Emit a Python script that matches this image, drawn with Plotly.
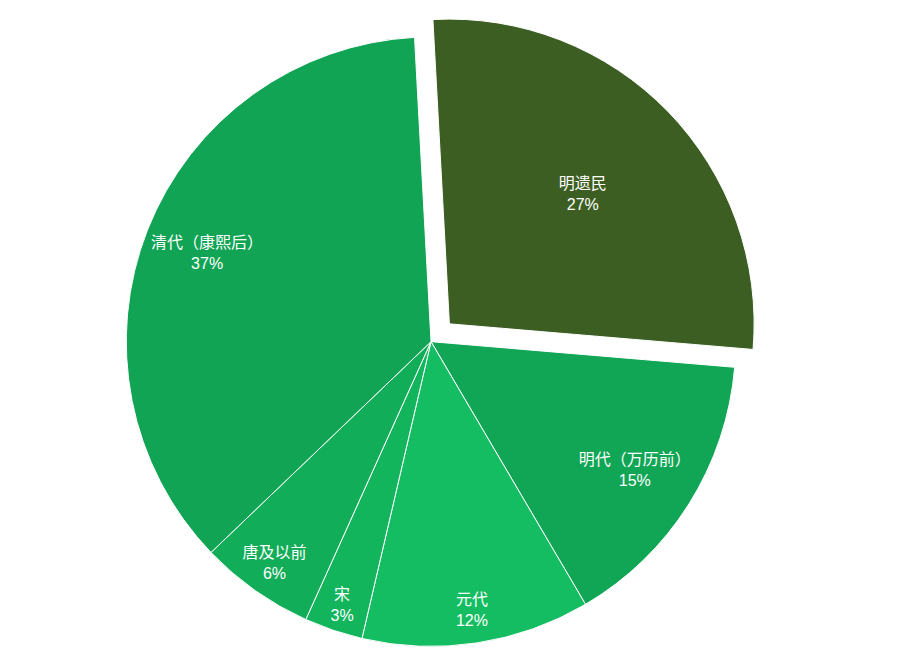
import plotly.graph_objects as go

labels = ["明遗民", "明代（万历前）", "元代", "宋", "唐及以前", "清代（康熙后）"]
# shares
values = [27.2, 15.2, 12.1, 3.1, 6.1, 36.3]
colors = ["#3c5e22", "#11a656", "#14bd61", "#12b45c", "#12ad59", "#10a454"]
pulls = [0.084, 0, 0, 0, 0, 0]
# label ring (hole size) each slice's label is positioned in
label_ring = [0.22, 0.58, 0.78, 0.78, 0.78, 0.58]


def rounded_percents(vals):
    """Largest-remainder rounding so the shown percentages sum to 100."""
    total = sum(vals)
    raw = [v / total * 100 for v in vals]
    out = [int(x) for x in raw]
    left = 100 - sum(out)
    order = sorted(range(len(vals)), key=lambda i: raw[i] - out[i], reverse=True)
    for i in order[:left]:
        out[i] += 1
    return out


pct = rounded_percents(values)

font = dict(color="white", size=16, family="Liberation Sans, Noto Sans CJK SC")
dom = dict(x=[0.0695, 0.8695], y=[0.0, 0.995])
tmpl = "%{label}<br>%{customdata}%"
rot = -3.1

fig = go.Figure()
fig.add_trace(go.Pie(
    labels=labels,
    values=values,
    customdata=pct,
    sort=False,
    direction="clockwise",
    rotation=rot,
    pull=pulls,
    marker=dict(colors=colors, line=dict(color="white", width=1)),
    textinfo="none",
    hovertemplate="%{label}: %{customdata}%<extra></extra>",
    domain=dom,
    showlegend=False,
))
# transparent rings that only position the labels
for h in sorted(set(label_ring)):
    fig.add_trace(go.Pie(
        labels=labels,
        values=values,
        customdata=pct,
        sort=False,
        direction="clockwise",
        rotation=rot,
        pull=pulls,
        hole=h,
        marker=dict(colors=["rgba(0,0,0,0)"] * len(values), line=dict(width=0)),
        texttemplate=[tmpl if lr == h else "" for lr in label_ring],
        textposition="inside",
        insidetextorientation="horizontal",
        textfont=font,
        hoverinfo="skip",
        domain=dom,
        showlegend=False,
    ))

fig.update_layout(
    width=901,
    height=664,
    margin=dict(l=0, r=0, t=0, b=0),
    paper_bgcolor="white",
    plot_bgcolor="white",
    uniformtext=dict(minsize=16, mode="show"),
    font=dict(family="Liberation Sans, Noto Sans CJK SC"),
)

fig.write_html("out.html")
